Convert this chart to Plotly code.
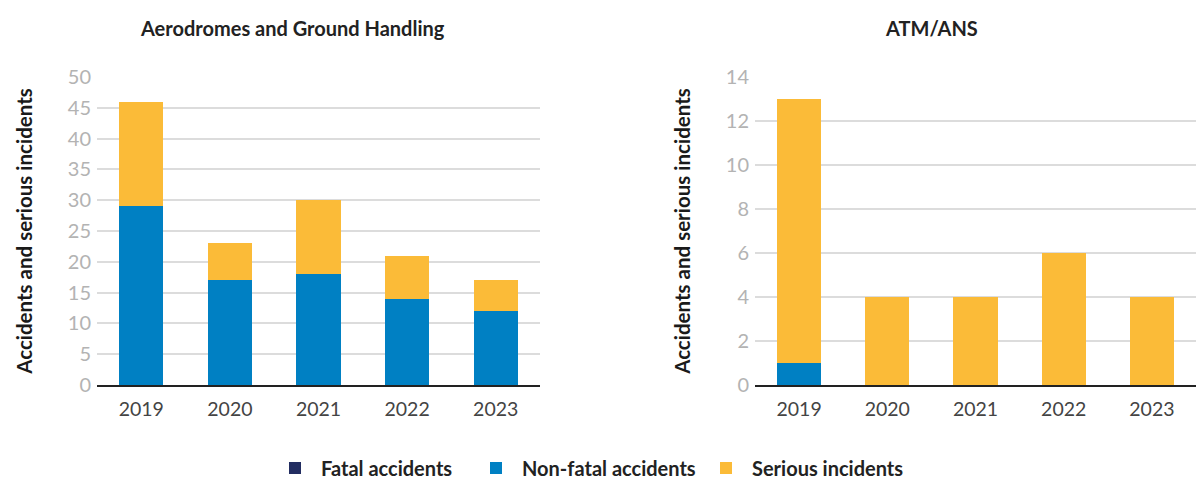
import plotly.graph_objects as go
from plotly.subplots import make_subplots

years = ["2019", "2020", "2021", "2022", "2023"]
titles = ["Aerodromes and Ground Handling", "ATM/ANS"]

adr_fatal = [0, 0, 0, 0, 0]
adr_nonfatal = [29, 17, 18, 14, 12]
adr_serious = [17, 6, 12, 7, 5]

atm_fatal = [0, 0, 0, 0, 0]
atm_nonfatal = [1, 0, 0, 0, 0]
atm_serious = [12, 4, 4, 6, 4]

series_names = ["Fatal accidents", "Non-fatal accidents", "Serious incidents"]
colors = ["#222d61", "#0080c3", "#fbbb38"]
legend_ids = ["legend", "legend2", "legend3"]
legend_text_x = [321, 522, 752]

FONT = "Lato"

L, R, T, B = 97, 0, 77, 94
W, H = 1196, 479
PW = W - L - R
PH = H - T - B

def px_x(p):
    return (p - L) / PW

def px_y(p):
    return (H - B - p) / PH

fig = make_subplots(rows=1, cols=2)

panels = [(adr_fatal, adr_nonfatal, adr_serious), (atm_fatal, atm_nonfatal, atm_serious)]
for ci, panel in enumerate(panels, start=1):
    for si, vals in enumerate(panel):
        fig.add_trace(go.Bar(
            x=years, y=vals, name=series_names[si],
            marker=dict(color=colors[si], line=dict(width=0)),
            showlegend=(ci == 1), legendgroup=series_names[si],
            legend=legend_ids[si],
            width=0.5,
        ), row=1, col=ci)

legend_style = dict(orientation="h", xanchor="left", y=px_y(468), yanchor="middle",
                    font=dict(family=FONT, size=20, color="#222", weight="bold"),
                    itemsizing="constant", itemwidth=42, bgcolor="rgba(0,0,0,0)")
legend_layout = {}
for lid, tx in zip(legend_ids, legend_text_x):
    legend_layout[lid] = dict(legend_style, x=px_x(tx - 52))

fig.update_layout(
    barmode="stack",
    width=W, height=H,
    margin=dict(l=L, r=R, t=T, b=B, autoexpand=False),
    plot_bgcolor="white", paper_bgcolor="white",
    font=dict(family=FONT, size=17, color="#444"),
    **legend_layout,
)

fig.update_xaxes(domain=[0.0, px_x(540)], row=1, col=1)
fig.update_xaxes(domain=[px_x(755), 1.0], row=1, col=2)

for ci in (1, 2):
    fig.update_xaxes(showgrid=False, showline=True, linecolor="#222", linewidth=1.5,
                     ticks="", ticklabelstandoff=6,
                     tickfont=dict(color="#444", size=19.5), automargin=False,
                     row=1, col=ci)

fig.update_yaxes(range=[0, 50], dtick=5, row=1, col=1)
fig.update_yaxes(range=[0, 14], dtick=2, row=1, col=2)
for ci in (1, 2):
    fig.update_yaxes(showgrid=True, gridcolor="#dcdcdc", gridwidth=1.5,
                     zeroline=False, showline=False, automargin=False,
                     ticklabelstandoff=5,
                     tickfont=dict(color="#b3b3b3", size=20),
                     title=dict(text="<b>Accidents and serious incidents</b>",
                                font=dict(size=20.5, color="#1a1a1a"), standoff=29),
                     row=1, col=ci)

for t, cx in zip(titles, (292, 931)):
    fig.add_annotation(text="<b>" + t + "</b>", x=px_x(cx), xref="paper", xanchor="center",
                       y=px_y(28), yref="paper", yanchor="middle", showarrow=False,
                       font=dict(family=FONT, size=20, color="#222"))

fig.write_html("out.html", config={"displayModeBar": False},
               post_script="document.body.style.margin='0';document.body.style.padding='0';")
